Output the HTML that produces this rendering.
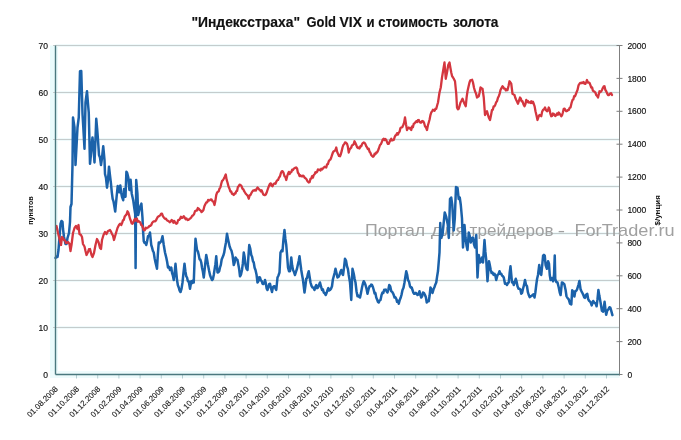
<!DOCTYPE html>
<html><head><meta charset="utf-8"><style>
html,body{margin:0;padding:0;background:#fff;}
body{width:681px;height:440px;position:relative;overflow:hidden;font-family:"Liberation Sans", "DejaVu Sans", sans-serif;}
svg text{font-family:"Liberation Sans", "DejaVu Sans", sans-serif;}
</style></head><body>
<svg width="681" height="440" viewBox="0 0 681 440" style="position:absolute;left:0;top:0">
<rect x="50" y="45.5" width="8" height="332.0" fill="#e9fbfc"/>
<rect x="50" y="371" width="569.5" height="7" fill="#eefbfc"/>
<line x1="55.5" y1="327.50" x2="619.5" y2="327.50" stroke="#f0fafb" stroke-width="3"/>
<line x1="55.5" y1="280.50" x2="619.5" y2="280.50" stroke="#f0fafb" stroke-width="3"/>
<line x1="55.5" y1="233.50" x2="619.5" y2="233.50" stroke="#f0fafb" stroke-width="3"/>
<line x1="55.5" y1="186.50" x2="619.5" y2="186.50" stroke="#f0fafb" stroke-width="3"/>
<line x1="55.5" y1="139.50" x2="619.5" y2="139.50" stroke="#f0fafb" stroke-width="3"/>
<line x1="55.5" y1="92.50" x2="619.5" y2="92.50" stroke="#f0fafb" stroke-width="3"/>
<line x1="55.5" y1="45.50" x2="619.5" y2="45.50" stroke="#f0fafb" stroke-width="3"/>
<line x1="53.0" y1="327.50" x2="619.5" y2="327.50" stroke="#c4cccd" stroke-width="1"/>
<line x1="53.0" y1="280.50" x2="619.5" y2="280.50" stroke="#c4cccd" stroke-width="1"/>
<line x1="53.0" y1="233.50" x2="619.5" y2="233.50" stroke="#c4cccd" stroke-width="1"/>
<line x1="53.0" y1="186.50" x2="619.5" y2="186.50" stroke="#c4cccd" stroke-width="1"/>
<line x1="53.0" y1="139.50" x2="619.5" y2="139.50" stroke="#c4cccd" stroke-width="1"/>
<line x1="53.0" y1="92.50" x2="619.5" y2="92.50" stroke="#c4cccd" stroke-width="1"/>
<line x1="53.0" y1="45.50" x2="619.5" y2="45.50" stroke="#c4cccd" stroke-width="1"/>
<line x1="619.5" y1="45.5" x2="619.5" y2="375.5" stroke="#7f7f7f" stroke-width="1"/>
<line x1="616.5" y1="374.50" x2="622.5" y2="374.50" stroke="#7f7f7f" stroke-width="1"/>
<line x1="616.5" y1="341.60" x2="622.5" y2="341.60" stroke="#7f7f7f" stroke-width="1"/>
<line x1="616.5" y1="308.70" x2="622.5" y2="308.70" stroke="#7f7f7f" stroke-width="1"/>
<line x1="616.5" y1="275.80" x2="622.5" y2="275.80" stroke="#7f7f7f" stroke-width="1"/>
<line x1="616.5" y1="242.90" x2="622.5" y2="242.90" stroke="#7f7f7f" stroke-width="1"/>
<line x1="616.5" y1="210.00" x2="622.5" y2="210.00" stroke="#7f7f7f" stroke-width="1"/>
<line x1="616.5" y1="177.10" x2="622.5" y2="177.10" stroke="#7f7f7f" stroke-width="1"/>
<line x1="616.5" y1="144.20" x2="622.5" y2="144.20" stroke="#7f7f7f" stroke-width="1"/>
<line x1="616.5" y1="111.30" x2="622.5" y2="111.30" stroke="#7f7f7f" stroke-width="1"/>
<line x1="616.5" y1="78.40" x2="622.5" y2="78.40" stroke="#7f7f7f" stroke-width="1"/>
<line x1="616.5" y1="45.50" x2="622.5" y2="45.50" stroke="#7f7f7f" stroke-width="1"/>
<line x1="76.50" y1="374.5" x2="76.50" y2="378.5" stroke="#b4cdd1" stroke-width="1"/>
<line x1="97.70" y1="374.5" x2="97.70" y2="378.5" stroke="#b4cdd1" stroke-width="1"/>
<line x1="118.90" y1="374.5" x2="118.90" y2="378.5" stroke="#b4cdd1" stroke-width="1"/>
<line x1="140.10" y1="374.5" x2="140.10" y2="378.5" stroke="#b4cdd1" stroke-width="1"/>
<line x1="161.30" y1="374.5" x2="161.30" y2="378.5" stroke="#b4cdd1" stroke-width="1"/>
<line x1="182.50" y1="374.5" x2="182.50" y2="378.5" stroke="#b4cdd1" stroke-width="1"/>
<line x1="203.70" y1="374.5" x2="203.70" y2="378.5" stroke="#b4cdd1" stroke-width="1"/>
<line x1="224.90" y1="374.5" x2="224.90" y2="378.5" stroke="#b4cdd1" stroke-width="1"/>
<line x1="246.10" y1="374.5" x2="246.10" y2="378.5" stroke="#b4cdd1" stroke-width="1"/>
<line x1="267.30" y1="374.5" x2="267.30" y2="378.5" stroke="#b4cdd1" stroke-width="1"/>
<line x1="288.50" y1="374.5" x2="288.50" y2="378.5" stroke="#b4cdd1" stroke-width="1"/>
<line x1="309.70" y1="374.5" x2="309.70" y2="378.5" stroke="#b4cdd1" stroke-width="1"/>
<line x1="330.90" y1="374.5" x2="330.90" y2="378.5" stroke="#b4cdd1" stroke-width="1"/>
<line x1="352.10" y1="374.5" x2="352.10" y2="378.5" stroke="#b4cdd1" stroke-width="1"/>
<line x1="373.30" y1="374.5" x2="373.30" y2="378.5" stroke="#b4cdd1" stroke-width="1"/>
<line x1="394.50" y1="374.5" x2="394.50" y2="378.5" stroke="#b4cdd1" stroke-width="1"/>
<line x1="415.70" y1="374.5" x2="415.70" y2="378.5" stroke="#b4cdd1" stroke-width="1"/>
<line x1="436.90" y1="374.5" x2="436.90" y2="378.5" stroke="#b4cdd1" stroke-width="1"/>
<line x1="458.10" y1="374.5" x2="458.10" y2="378.5" stroke="#b4cdd1" stroke-width="1"/>
<line x1="479.30" y1="374.5" x2="479.30" y2="378.5" stroke="#b4cdd1" stroke-width="1"/>
<line x1="500.50" y1="374.5" x2="500.50" y2="378.5" stroke="#b4cdd1" stroke-width="1"/>
<line x1="521.70" y1="374.5" x2="521.70" y2="378.5" stroke="#b4cdd1" stroke-width="1"/>
<line x1="542.90" y1="374.5" x2="542.90" y2="378.5" stroke="#b4cdd1" stroke-width="1"/>
<line x1="564.10" y1="374.5" x2="564.10" y2="378.5" stroke="#b4cdd1" stroke-width="1"/>
<line x1="585.30" y1="374.5" x2="585.30" y2="378.5" stroke="#b4cdd1" stroke-width="1"/>
<line x1="606.50" y1="374.5" x2="606.50" y2="378.5" stroke="#b4cdd1" stroke-width="1"/>
<text x="364.90" y="235.8" font-size="16.2" fill="#a0a0a0" textLength="60.20" lengthAdjust="spacingAndGlyphs">Портал</text>
<text x="430.75" y="235.8" font-size="16.2" fill="#a0a0a0" textLength="35.75" lengthAdjust="spacingAndGlyphs">для</text>
<text x="469.60" y="235.8" font-size="16.2" fill="#a0a0a0" textLength="83.90" lengthAdjust="spacingAndGlyphs">трейдеров</text>
<text x="557.70" y="235.8" font-size="16.2" fill="#a0a0a0" textLength="7.30" lengthAdjust="spacingAndGlyphs">-</text>
<text x="574.40" y="235.8" font-size="16.2" fill="#a0a0a0" textLength="100.30" lengthAdjust="spacingAndGlyphs">ForTrader.ru</text>
<polyline points="55.50,258.00 56.50,256.45 57.50,257.00 58.50,250.00 59.50,237.00 60.50,224.00 61.50,221.00 62.50,222.00 63.00,229.00 64.00,237.00 65.50,244.00 66.50,244.00 67.50,238.00 69.00,233.00 70.00,222.00 70.50,207.00 71.50,204.00 72.50,165.00 73.00,117.50 74.50,127.50 75.50,165.00 76.50,146.43 77.50,127.50 78.75,117.50 80.00,71.25 81.25,71.00 82.50,113.75 83.50,130.73 84.50,148.75 85.50,102.50 87.00,91.25 87.88,102.29 88.75,112.50 90.00,163.75 90.83,155.50 91.67,144.51 92.50,137.50 93.50,148.05 94.50,162.50 95.38,141.97 96.25,118.75 97.12,128.41 98.00,140.00 99.00,155.00 100.00,157.50 101.00,165.00 102.00,158.00 103.25,146.25 104.50,160.00 105.00,174.00 106.00,178.00 107.00,187.70 108.00,180.00 109.00,166.70 110.10,176.40 110.95,183.29 111.80,192.30 112.65,198.83 113.50,201.40 114.35,206.38 115.20,211.60 116.40,199.00 117.70,186.00 119.20,192.30 120.30,185.50 121.15,192.50 122.00,196.80 123.20,200.20 124.10,188.90 125.50,196.80 126.40,171.80 127.20,173.00 128.30,177.50 129.40,190.00 130.60,179.80 131.70,193.40 133.20,200.20 134.30,208.20 135.20,214.00 135.60,268.00 136.20,180.00 137.40,193.40 138.20,215.00 139.70,208.20 140.55,205.81 141.40,203.60 142.50,218.00 143.00,230.00 143.75,241.25 144.58,243.06 145.42,242.35 146.25,245.00 147.12,241.16 148.00,236.25 149.00,235.85 150.00,232.50 151.25,245.00 152.08,247.59 152.92,250.97 153.75,252.50 154.62,258.19 155.50,262.50 157.00,268.75 157.88,253.88 158.75,242.50 159.58,243.12 160.42,242.03 161.25,241.25 162.50,236.25 163.75,245.00 165.00,252.50 166.25,257.50 167.12,261.71 168.00,267.50 169.00,266.87 170.00,270.00 171.25,267.50 172.08,273.13 172.92,275.72 173.75,280.00 174.62,272.75 175.50,263.75 177.00,280.00 177.88,285.27 178.75,287.50 179.62,290.61 180.50,292.00 181.50,288.93 182.50,282.50 183.50,272.70 184.50,263.75 185.38,271.20 186.25,276.25 187.08,277.70 187.92,281.33 188.75,281.25 190.00,288.75 191.25,281.25 192.08,283.18 192.92,280.47 193.75,282.50 194.62,259.17 195.50,238.75 197.00,250.00 197.88,251.37 198.75,255.00 199.58,259.36 200.42,259.74 201.25,262.50 202.08,268.01 202.92,271.70 203.75,277.50 204.58,270.03 205.42,262.04 206.25,255.00 207.12,259.40 208.00,265.00 209.00,270.34 210.00,275.00 211.00,277.84 212.00,280.00 212.88,279.12 213.75,275.00 214.58,269.48 215.42,264.22 216.25,256.25 217.50,272.50 218.33,272.26 219.17,271.13 220.00,267.50 220.83,264.85 221.67,259.49 222.50,257.50 223.33,255.61 224.17,252.69 225.00,247.50 226.00,242.24 227.00,233.75 227.88,238.40 228.75,242.50 229.62,246.48 230.50,248.75 231.50,250.72 232.50,255.00 233.75,265.00 234.62,262.58 235.50,257.50 236.50,259.04 237.50,260.00 238.33,264.56 239.17,269.09 240.00,276.25 241.00,274.54 242.00,270.00 242.88,263.21 243.75,252.50 244.62,257.10 245.50,265.00 246.50,268.70 247.50,270.00 248.38,257.14 249.25,245.00 250.25,248.60 251.25,255.00 252.08,256.68 252.92,261.08 253.75,262.50 254.62,267.74 255.50,270.00 256.50,274.43 257.50,282.50 258.33,281.29 259.17,277.35 260.00,277.50 260.83,280.46 261.67,280.99 262.50,283.75 263.33,284.02 264.17,283.17 265.00,280.00 265.83,283.36 266.67,288.66 267.50,290.00 268.33,287.16 269.17,284.14 270.00,283.75 271.00,288.27 272.00,292.00 272.88,287.25 273.75,286.25 274.58,286.29 275.42,288.38 276.25,290.00 277.50,277.50 278.50,275.44 279.50,272.50 280.50,252.50 281.50,250.50 282.50,251.25 283.50,238.79 284.50,230.00 285.38,238.97 286.25,245.00 287.12,255.51 288.00,267.50 289.00,271.21 290.00,271.25 291.25,257.50 292.12,265.34 293.00,270.00 294.00,272.01 295.00,275.00 296.00,271.72 297.00,268.75 297.83,264.66 298.67,260.99 299.50,256.25 300.38,263.51 301.25,270.00 302.12,275.24 303.00,280.00 304.50,292.50 305.38,286.11 306.25,278.75 307.08,278.01 307.92,273.78 308.75,271.25 309.62,276.60 310.50,282.50 311.50,285.88 312.50,287.50 313.50,287.70 314.50,290.00 315.38,286.70 316.25,285.00 317.12,288.16 318.00,287.50 319.00,285.08 320.00,282.50 321.00,286.44 322.00,290.00 322.88,289.30 323.75,292.50 324.75,293.41 325.75,295.00 326.62,292.82 327.50,290.00 328.33,288.08 329.17,290.46 330.00,290.00 331.00,288.65 332.00,286.25 332.88,279.49 333.75,276.25 334.62,273.01 335.50,268.75 336.50,272.99 337.50,277.50 338.50,276.97 339.50,275.00 340.38,271.91 341.25,270.00 342.12,273.33 343.00,275.00 344.00,267.83 345.00,258.75 346.00,260.59 347.00,266.25 347.88,268.87 348.75,275.00 350.00,282.50 351.25,300.00 352.50,268.75 353.75,273.75 354.62,278.83 355.50,282.50 356.50,291.23 357.50,296.25 358.33,295.67 359.17,296.91 360.00,297.50 361.00,292.87 362.00,287.50 362.88,283.66 363.75,281.25 364.62,282.58 365.50,285.00 366.50,288.63 367.50,293.75 368.50,289.48 369.50,286.25 370.33,286.22 371.17,284.62 372.00,285.00 372.88,287.01 373.75,290.00 374.58,293.59 375.42,293.11 376.25,297.50 377.08,299.44 377.92,301.77 378.75,302.50 379.62,300.49 380.50,300.00 381.50,295.14 382.50,292.50 383.33,292.88 384.17,289.79 385.00,290.00 385.83,289.58 386.67,291.41 387.50,292.50 388.38,289.54 389.25,285.00 390.25,286.53 391.25,291.25 392.08,291.79 392.92,293.09 393.75,295.00 394.58,297.58 395.42,297.25 396.25,298.75 397.08,301.84 397.92,300.76 398.75,303.75 399.75,299.97 400.75,297.50 401.62,294.35 402.50,290.00 403.50,287.79 404.50,282.50 405.38,276.68 406.25,271.25 407.12,274.53 408.00,280.00 409.00,281.61 410.00,286.25 410.83,287.62 411.67,287.51 412.50,290.00 413.33,292.48 414.17,293.85 415.00,293.75 415.83,292.90 416.67,293.70 417.50,295.00 418.50,294.35 419.50,291.25 420.38,294.94 421.25,297.50 422.12,296.23 423.00,292.50 424.00,293.13 425.00,295.00 425.88,297.27 426.75,302.50 427.75,301.04 428.75,301.25 429.62,295.55 430.50,287.50 431.50,289.33 432.50,293.00 433.50,289.39 434.50,287.00 435.38,284.42 436.25,282.50 437.12,276.43 438.00,271.00 439.50,252.50 440.25,223.00 441.00,238.00 442.50,235.00 443.62,223.39 444.75,212.50 446.25,217.00 447.75,224.50 448.80,238.00 450.00,199.00 451.20,197.50 452.25,205.00 453.75,230.50 454.80,218.50 456.00,187.00 457.50,187.75 458.70,199.00 459.75,197.50 460.80,205.00 462.00,218.50 463.00,247.50 464.50,225.00 465.50,237.50 466.50,245.43 467.50,250.00 468.75,232.50 469.75,236.12 470.75,242.50 471.88,238.02 473.00,237.50 474.00,244.27 475.00,247.50 476.25,235.00 477.50,277.50 478.75,255.00 480.00,262.50 481.00,261.52 482.00,257.50 483.00,262.50 484.50,240.00 485.38,251.95 486.25,260.00 487.50,281.25 489.00,261.25 489.88,265.36 490.75,270.00 491.62,273.05 492.50,272.50 493.50,274.83 494.50,273.75 495.38,275.76 496.25,280.00 497.50,275.00 498.50,274.11 499.50,271.25 500.38,273.85 501.25,273.75 502.08,275.65 502.92,276.33 503.75,277.50 505.00,283.75 506.00,283.53 507.00,285.00 507.88,283.11 508.75,282.50 509.62,273.28 510.50,266.25 512.00,282.50 512.88,282.02 513.75,285.00 514.75,282.23 515.75,278.75 516.62,281.65 517.50,286.25 518.50,288.74 519.50,288.75 520.38,289.43 521.25,293.75 522.12,292.86 523.00,288.75 524.00,285.15 525.00,280.00 526.00,284.82 527.00,286.25 527.88,292.21 528.75,295.00 529.75,297.22 530.75,296.25 531.62,295.93 532.50,295.00 533.50,294.30 534.50,297.50 535.38,292.23 536.25,285.00 537.12,278.69 538.00,275.00 539.25,265.00 540.00,272.50 541.25,275.00 542.25,265.00 543.10,255.60 543.92,254.80 544.75,255.60 545.60,265.00 546.90,268.75 548.10,261.25 549.00,263.75 549.75,275.00 550.60,280.00 551.90,278.00 553.10,281.25 554.00,275.00 554.75,255.60 555.25,278.75 556.25,282.00 557.50,282.50 558.75,287.50 559.75,292.50 560.60,295.00 561.90,282.50 563.10,283.00 564.40,284.40 565.60,290.00 566.50,296.25 567.50,298.00 568.75,299.40 570.00,303.75 571.30,304.50 572.20,290.30 573.50,292.00 574.40,296.50 575.30,291.20 576.20,290.95 577.10,289.40 578.40,285.00 579.40,281.00 580.60,289.40 581.50,291.30 582.40,293.00 583.30,294.86 584.20,297.40 585.10,297.83 586.00,294.75 587.30,293.90 588.20,299.20 589.10,300.75 590.00,301.40 590.85,302.77 591.70,305.40 593.20,301.00 594.40,302.70 595.70,303.60 596.60,306.30 597.50,299.20 598.40,289.90 599.30,295.60 600.60,302.70 601.90,310.70 603.20,311.60 604.60,301.80 605.50,309.80 606.20,314.70 607.20,310.70 608.60,308.90 609.45,307.26 610.30,307.60 611.20,310.70 612.40,315.10" fill="none" stroke="#1b62aa" stroke-width="2.5" stroke-linejoin="round" stroke-linecap="round"/>
<polyline points="56.50,226.00 58.00,233.00 59.50,239.00 61.00,245.00 62.00,237.00 63.00,237.97 64.00,240.00 65.00,240.45 66.00,243.00 67.00,242.95 68.00,242.00 69.50,244.00 70.50,251.00 71.50,245.00 73.00,233.00 74.50,228.00 76.00,226.00 77.50,229.00 78.50,225.00 79.50,234.00 81.00,235.00 82.00,237.00 83.00,244.00 84.50,246.50 85.50,251.00 86.50,255.00 88.00,252.00 89.00,249.22 90.00,249.00 91.50,255.00 92.50,257.00 94.00,253.00 95.50,245.00 97.00,239.00 98.50,242.00 100.00,248.00 101.00,249.00 102.00,240.00 103.50,235.00 105.00,232.00 106.50,234.00 108.00,231.00 109.00,230.61 110.00,230.00 111.00,231.60 112.00,234.00 113.00,235.67 114.00,240.00 115.00,236.52 116.00,233.00 117.50,228.00 119.00,225.00 120.12,223.61 121.25,225.00 122.08,223.13 122.92,220.38 123.75,220.00 124.69,216.58 125.62,215.40 126.56,214.42 127.50,211.25 128.33,212.62 129.17,215.42 130.00,218.75 130.83,220.80 131.67,223.43 132.50,223.75 133.33,222.31 134.17,220.11 135.00,218.75 135.94,220.80 136.88,218.64 137.81,221.70 138.75,221.25 139.58,221.87 140.42,222.68 141.25,225.00 142.08,225.52 142.92,227.76 143.75,230.00 144.69,230.32 145.62,227.79 146.56,228.37 147.50,227.50 148.44,227.29 149.38,225.87 150.31,225.77 151.25,225.00 152.19,222.75 153.12,221.80 154.06,221.31 155.00,221.25 155.94,220.54 156.88,218.53 157.81,216.94 158.75,216.25 159.56,215.88 160.38,214.86 161.19,213.77 162.00,213.75 163.00,216.30 164.00,217.68 165.00,218.75 165.94,218.61 166.88,220.22 167.81,220.70 168.75,221.25 169.69,222.19 170.62,221.56 171.56,220.05 172.50,220.50 173.44,222.75 174.38,220.98 175.31,222.69 176.25,223.75 177.19,223.27 178.12,220.21 179.06,219.97 180.00,218.75 180.94,216.74 181.88,218.00 182.81,217.67 183.75,216.25 184.69,217.41 185.62,219.25 186.56,218.50 187.50,220.00 188.44,219.96 189.38,219.03 190.31,218.36 191.25,217.50 192.19,215.81 193.12,215.39 194.06,214.15 195.00,211.25 195.94,210.55 196.88,210.49 197.81,208.06 198.75,208.75 199.69,209.98 200.62,210.44 201.56,212.10 202.50,211.25 203.44,210.03 204.38,206.23 205.31,204.34 206.25,202.50 207.19,202.38 208.12,199.82 209.06,200.51 210.00,200.00 210.83,199.42 211.67,199.68 212.50,201.25 213.50,201.80 214.50,205.00 215.38,200.80 216.25,195.00 217.08,192.64 217.92,191.74 218.75,191.25 219.58,188.42 220.42,187.36 221.25,183.75 222.08,180.83 222.92,180.26 223.75,178.75 224.75,176.77 225.75,174.50 226.62,179.65 227.50,182.50 228.50,186.58 229.50,188.75 230.33,191.51 231.17,191.42 232.00,193.75 232.88,194.12 233.75,195.00 234.58,193.33 235.42,193.65 236.25,191.25 237.08,190.96 237.92,186.87 238.75,186.25 239.62,184.65 240.50,185.00 241.50,186.07 242.50,188.75 243.33,189.20 244.17,191.20 245.00,192.50 246.00,194.02 247.00,195.00 247.88,196.16 248.75,198.75 249.62,195.39 250.50,195.00 251.50,192.88 252.50,191.25 253.33,190.44 254.17,190.62 255.00,190.00 255.83,190.53 256.67,188.90 257.50,187.50 258.33,188.38 259.17,189.52 260.00,190.00 260.83,191.36 261.67,190.33 262.50,192.50 263.33,194.53 264.17,195.01 265.00,195.00 265.83,194.46 266.67,192.56 267.50,190.00 268.33,187.59 269.17,185.53 270.00,183.75 270.83,183.39 271.67,185.82 272.50,186.25 273.50,184.10 274.50,183.29 275.50,183.75 276.33,181.63 277.17,180.24 278.00,180.00 279.00,177.65 280.00,176.25 280.83,173.24 281.67,171.42 282.50,171.25 283.50,172.70 284.50,176.25 285.38,176.93 286.25,180.00 287.12,176.47 288.00,173.75 288.83,171.91 289.67,174.04 290.50,172.50 291.33,172.01 292.17,169.78 293.00,170.00 293.81,168.63 294.62,168.29 295.44,167.72 296.25,167.50 297.08,168.45 297.92,172.71 298.75,173.75 299.58,176.06 300.42,175.31 301.25,176.25 302.06,176.51 302.88,175.63 303.69,175.99 304.50,177.50 305.50,178.28 306.50,179.29 307.50,181.25 308.75,182.50 309.58,182.24 310.42,178.98 311.25,178.75 312.08,176.07 312.92,177.60 313.75,175.00 314.58,174.25 315.42,172.27 316.25,172.50 317.08,171.80 317.92,169.41 318.75,170.00 319.58,169.67 320.42,170.60 321.25,168.75 322.08,169.42 322.92,168.51 323.75,167.50 324.58,166.78 325.42,167.10 326.25,167.50 327.08,164.42 327.92,164.15 328.75,161.25 329.58,160.10 330.42,159.59 331.25,157.50 332.08,154.91 332.92,152.50 333.75,151.25 334.58,150.93 335.42,150.20 336.25,147.50 337.12,151.68 338.00,153.75 339.00,155.92 340.00,156.25 340.83,154.29 341.67,151.14 342.50,147.50 343.33,145.01 344.17,144.22 345.00,142.50 346.00,142.69 347.00,143.75 347.88,146.71 348.75,152.50 349.58,149.42 350.42,148.50 351.25,147.50 352.06,145.22 352.88,144.95 353.69,144.18 354.50,141.25 355.38,142.97 356.25,145.00 357.08,147.14 357.92,148.13 358.75,147.50 359.58,148.45 360.42,146.26 361.25,146.25 362.08,144.16 362.92,142.93 363.75,142.50 364.58,142.84 365.42,144.11 366.25,146.25 367.08,147.46 367.92,149.12 368.75,148.75 369.58,151.85 370.42,152.86 371.25,155.00 372.08,155.88 372.92,156.73 373.75,156.25 374.58,153.75 375.42,154.23 376.25,152.50 377.08,152.48 377.92,150.85 378.75,148.75 380.00,145.00 380.94,144.19 381.88,141.81 382.81,139.35 383.75,138.75 384.58,140.03 385.42,139.08 386.25,140.00 387.08,142.15 387.92,143.91 388.75,143.75 389.58,141.77 390.42,140.12 391.25,138.75 392.08,140.51 392.92,140.26 393.75,140.00 394.58,137.34 395.42,135.55 396.25,135.00 397.08,133.12 397.92,134.55 398.75,132.50 399.58,131.75 400.42,128.11 401.25,127.50 402.25,127.23 403.25,125.00 404.12,122.69 405.00,117.50 406.00,124.22 407.00,130.00 407.88,128.30 408.75,127.50 409.58,128.48 410.42,128.06 411.25,130.00 412.08,126.46 412.92,127.25 413.75,123.75 414.58,123.37 415.42,122.16 416.25,121.25 417.08,122.13 417.92,120.22 418.75,120.00 419.58,121.95 420.42,122.65 421.25,122.50 422.25,121.01 423.25,121.25 424.12,123.01 425.00,126.25 426.00,127.50 427.00,130.00 427.88,125.47 428.75,122.50 429.58,119.43 430.42,115.11 431.25,112.50 432.08,111.42 432.92,109.73 433.75,110.00 434.58,110.81 435.42,108.73 436.25,108.75 437.12,105.50 438.00,102.50 439.50,92.50 440.75,87.50 442.00,77.50 443.25,70.00 444.50,62.50 445.75,78.75 447.00,72.50 448.25,65.00 449.50,62.50 450.38,67.75 451.25,72.50 452.12,76.21 453.00,77.50 454.00,79.14 455.00,81.25 456.25,93.75 457.00,107.50 457.88,109.38 458.75,108.75 459.62,105.63 460.50,102.50 461.50,100.72 462.50,98.75 463.50,101.32 464.50,103.75 465.75,106.25 466.62,97.31 467.50,91.25 468.50,86.70 469.50,82.50 470.38,80.30 471.25,80.00 472.12,79.76 473.00,82.50 474.00,87.77 475.00,91.25 476.00,93.39 477.00,97.50 477.88,96.80 478.75,96.25 479.62,92.55 480.50,87.50 481.50,88.29 482.50,88.75 483.75,97.50 485.00,115.00 486.00,112.60 487.00,111.25 487.88,114.43 488.75,117.50 490.00,120.00 491.00,115.17 492.00,110.00 492.83,109.60 493.67,106.32 494.50,106.25 495.33,104.76 496.17,102.16 497.00,101.25 497.88,98.08 498.75,96.25 499.62,93.94 500.50,90.00 501.50,88.15 502.50,86.25 503.33,87.27 504.17,88.70 505.00,88.75 505.83,90.40 506.67,89.41 507.50,90.00 508.50,85.96 509.50,81.25 510.38,82.52 511.25,83.75 512.50,93.75 513.50,94.41 514.50,95.00 515.38,98.08 516.25,100.00 517.12,101.73 518.00,103.75 519.00,100.72 520.00,97.50 520.83,98.68 521.67,101.32 522.50,101.25 523.50,104.35 524.50,106.25 525.38,104.25 526.25,100.00 527.08,102.16 527.92,100.95 528.75,102.50 529.58,102.26 530.42,103.00 531.25,101.25 532.08,103.10 532.92,101.83 533.75,103.75 534.62,106.36 535.50,111.25 536.50,115.45 537.50,120.00 538.75,116.25 539.58,114.97 540.42,115.47 541.25,116.25 542.12,111.84 543.00,110.00 544.00,109.26 545.00,107.50 546.00,110.23 547.00,111.25 547.88,110.57 548.75,107.50 549.58,109.38 550.42,113.98 551.25,116.25 552.08,115.90 552.92,113.51 553.75,113.75 554.58,115.32 555.42,115.99 556.25,115.00 557.08,113.33 557.92,114.69 558.75,112.50 559.58,113.44 560.42,114.96 561.25,116.25 562.08,115.22 562.92,112.25 563.75,108.75 564.58,108.57 565.42,110.21 566.25,111.25 567.08,110.88 567.92,109.93 568.75,110.00 569.62,107.84 570.50,107.50 571.50,103.21 572.50,100.00 573.33,99.42 574.17,96.06 575.00,96.25 575.83,94.33 576.67,91.90 577.50,90.00 578.50,85.43 579.50,83.75 580.33,82.83 581.17,83.29 582.00,82.50 582.83,82.95 583.67,82.03 584.50,83.75 585.33,83.96 586.17,82.12 587.00,80.00 587.88,82.67 588.75,82.50 589.58,82.98 590.42,85.13 591.25,87.50 592.08,87.37 592.92,90.84 593.75,91.25 594.58,91.81 595.42,92.64 596.25,95.00 597.12,96.02 598.00,97.50 599.50,91.25 600.33,92.07 601.17,91.37 602.00,90.00 602.83,88.03 603.67,86.45 604.50,86.25 605.38,90.01 606.25,91.25 607.12,93.34 608.00,95.00 609.00,94.98 610.00,93.75 611.00,93.14 612.00,95.00" fill="none" stroke="#d4363f" stroke-width="2.3" stroke-linejoin="round" stroke-linecap="round"/>
<line x1="55.5" y1="45.5" x2="55.5" y2="374.5" stroke="#4a787e" stroke-width="1.4"/>
<line x1="55.5" y1="374.5" x2="619.5" y2="374.5" stroke="#4a787e" stroke-width="1.4"/>
<text x="48" y="377.60" text-anchor="end" font-size="8.5" fill="#111" stroke="#111" stroke-width="0.15">0</text>
<text x="48" y="330.60" text-anchor="end" font-size="8.5" fill="#111" stroke="#111" stroke-width="0.15">10</text>
<text x="48" y="283.60" text-anchor="end" font-size="8.5" fill="#111" stroke="#111" stroke-width="0.15">20</text>
<text x="48" y="236.60" text-anchor="end" font-size="8.5" fill="#111" stroke="#111" stroke-width="0.15">30</text>
<text x="48" y="189.60" text-anchor="end" font-size="8.5" fill="#111" stroke="#111" stroke-width="0.15">40</text>
<text x="48" y="142.60" text-anchor="end" font-size="8.5" fill="#111" stroke="#111" stroke-width="0.15">50</text>
<text x="48" y="95.60" text-anchor="end" font-size="8.5" fill="#111" stroke="#111" stroke-width="0.15">60</text>
<text x="48" y="48.60" text-anchor="end" font-size="8.5" fill="#111" stroke="#111" stroke-width="0.15">70</text>
<text x="627.4" y="377.60" font-size="8.5" fill="#111" stroke="#111" stroke-width="0.15">0</text>
<text x="627.4" y="344.70" font-size="8.5" fill="#111" stroke="#111" stroke-width="0.15">200</text>
<text x="627.4" y="311.80" font-size="8.5" fill="#111" stroke="#111" stroke-width="0.15">400</text>
<text x="627.4" y="278.90" font-size="8.5" fill="#111" stroke="#111" stroke-width="0.15">600</text>
<text x="627.4" y="246.00" font-size="8.5" fill="#111" stroke="#111" stroke-width="0.15">800</text>
<text x="627.4" y="213.10" font-size="8.5" fill="#111" stroke="#111" stroke-width="0.15">1000</text>
<text x="627.4" y="180.20" font-size="8.5" fill="#111" stroke="#111" stroke-width="0.15">1200</text>
<text x="627.4" y="147.30" font-size="8.5" fill="#111" stroke="#111" stroke-width="0.15">1400</text>
<text x="627.4" y="114.40" font-size="8.5" fill="#111" stroke="#111" stroke-width="0.15">1600</text>
<text x="627.4" y="81.50" font-size="8.5" fill="#111" stroke="#111" stroke-width="0.15">1800</text>
<text x="627.4" y="48.60" font-size="8.5" fill="#111" stroke="#111" stroke-width="0.15">2000</text>
<text x="58.50" y="389.50" text-anchor="end" font-size="8" fill="#1a1a1a" stroke="#1a1a1a" stroke-width="0.1" transform="rotate(-45 58.50 389.50)">01.08.2008</text>
<text x="79.70" y="389.50" text-anchor="end" font-size="8" fill="#1a1a1a" stroke="#1a1a1a" stroke-width="0.1" transform="rotate(-45 79.70 389.50)">01.10.2008</text>
<text x="100.90" y="389.50" text-anchor="end" font-size="8" fill="#1a1a1a" stroke="#1a1a1a" stroke-width="0.1" transform="rotate(-45 100.90 389.50)">01.12.2008</text>
<text x="122.10" y="389.50" text-anchor="end" font-size="8" fill="#1a1a1a" stroke="#1a1a1a" stroke-width="0.1" transform="rotate(-45 122.10 389.50)">01.02.2009</text>
<text x="143.30" y="389.50" text-anchor="end" font-size="8" fill="#1a1a1a" stroke="#1a1a1a" stroke-width="0.1" transform="rotate(-45 143.30 389.50)">01.04.2009</text>
<text x="164.50" y="389.50" text-anchor="end" font-size="8" fill="#1a1a1a" stroke="#1a1a1a" stroke-width="0.1" transform="rotate(-45 164.50 389.50)">01.06.2009</text>
<text x="185.70" y="389.50" text-anchor="end" font-size="8" fill="#1a1a1a" stroke="#1a1a1a" stroke-width="0.1" transform="rotate(-45 185.70 389.50)">01.08.2009</text>
<text x="206.90" y="389.50" text-anchor="end" font-size="8" fill="#1a1a1a" stroke="#1a1a1a" stroke-width="0.1" transform="rotate(-45 206.90 389.50)">01.10.2009</text>
<text x="228.10" y="389.50" text-anchor="end" font-size="8" fill="#1a1a1a" stroke="#1a1a1a" stroke-width="0.1" transform="rotate(-45 228.10 389.50)">01.12.2009</text>
<text x="249.30" y="389.50" text-anchor="end" font-size="8" fill="#1a1a1a" stroke="#1a1a1a" stroke-width="0.1" transform="rotate(-45 249.30 389.50)">01.02.2010</text>
<text x="270.50" y="389.50" text-anchor="end" font-size="8" fill="#1a1a1a" stroke="#1a1a1a" stroke-width="0.1" transform="rotate(-45 270.50 389.50)">01.04.2010</text>
<text x="291.70" y="389.50" text-anchor="end" font-size="8" fill="#1a1a1a" stroke="#1a1a1a" stroke-width="0.1" transform="rotate(-45 291.70 389.50)">01.06.2010</text>
<text x="312.90" y="389.50" text-anchor="end" font-size="8" fill="#1a1a1a" stroke="#1a1a1a" stroke-width="0.1" transform="rotate(-45 312.90 389.50)">01.08.2010</text>
<text x="334.10" y="389.50" text-anchor="end" font-size="8" fill="#1a1a1a" stroke="#1a1a1a" stroke-width="0.1" transform="rotate(-45 334.10 389.50)">01.10.2010</text>
<text x="355.30" y="389.50" text-anchor="end" font-size="8" fill="#1a1a1a" stroke="#1a1a1a" stroke-width="0.1" transform="rotate(-45 355.30 389.50)">01.12.2010</text>
<text x="376.50" y="389.50" text-anchor="end" font-size="8" fill="#1a1a1a" stroke="#1a1a1a" stroke-width="0.1" transform="rotate(-45 376.50 389.50)">01.02.2011</text>
<text x="397.70" y="389.50" text-anchor="end" font-size="8" fill="#1a1a1a" stroke="#1a1a1a" stroke-width="0.1" transform="rotate(-45 397.70 389.50)">01.04.2011</text>
<text x="418.90" y="389.50" text-anchor="end" font-size="8" fill="#1a1a1a" stroke="#1a1a1a" stroke-width="0.1" transform="rotate(-45 418.90 389.50)">01.06.2011</text>
<text x="440.10" y="389.50" text-anchor="end" font-size="8" fill="#1a1a1a" stroke="#1a1a1a" stroke-width="0.1" transform="rotate(-45 440.10 389.50)">01.08.2011</text>
<text x="461.30" y="389.50" text-anchor="end" font-size="8" fill="#1a1a1a" stroke="#1a1a1a" stroke-width="0.1" transform="rotate(-45 461.30 389.50)">01.10.2011</text>
<text x="482.50" y="389.50" text-anchor="end" font-size="8" fill="#1a1a1a" stroke="#1a1a1a" stroke-width="0.1" transform="rotate(-45 482.50 389.50)">01.12.2011</text>
<text x="503.70" y="389.50" text-anchor="end" font-size="8" fill="#1a1a1a" stroke="#1a1a1a" stroke-width="0.1" transform="rotate(-45 503.70 389.50)">01.02.2012</text>
<text x="524.90" y="389.50" text-anchor="end" font-size="8" fill="#1a1a1a" stroke="#1a1a1a" stroke-width="0.1" transform="rotate(-45 524.90 389.50)">01.04.2012</text>
<text x="546.10" y="389.50" text-anchor="end" font-size="8" fill="#1a1a1a" stroke="#1a1a1a" stroke-width="0.1" transform="rotate(-45 546.10 389.50)">01.06.2012</text>
<text x="567.30" y="389.50" text-anchor="end" font-size="8" fill="#1a1a1a" stroke="#1a1a1a" stroke-width="0.1" transform="rotate(-45 567.30 389.50)">01.08.2012</text>
<text x="588.50" y="389.50" text-anchor="end" font-size="8" fill="#1a1a1a" stroke="#1a1a1a" stroke-width="0.1" transform="rotate(-45 588.50 389.50)">01.10.2012</text>
<text x="609.70" y="389.50" text-anchor="end" font-size="8" fill="#1a1a1a" stroke="#1a1a1a" stroke-width="0.1" transform="rotate(-45 609.70 389.50)">01.12.2012</text>
<text x="33" y="210.5" text-anchor="middle" font-size="6.8" font-weight="bold" fill="#111" textLength="28.5" lengthAdjust="spacingAndGlyphs" transform="rotate(-90 33 210.5)">пунктов</text>
<text x="660.5" y="210.3" text-anchor="middle" font-size="7.4" font-weight="bold" fill="#111" textLength="30.5" lengthAdjust="spacingAndGlyphs" transform="rotate(-90 660.5 210.3)">$/унция</text>
<text x="191.40" y="26.6" font-size="14" font-weight="bold" fill="#111" stroke="#111" stroke-width="0.15" textLength="108.70" lengthAdjust="spacingAndGlyphs">"Индексстраха"</text>
<text x="306.40" y="26.6" font-size="14" font-weight="bold" fill="#111" stroke="#111" stroke-width="0.15" textLength="29.50" lengthAdjust="spacingAndGlyphs">Gold</text>
<text x="339.60" y="26.6" font-size="14" font-weight="bold" fill="#111" stroke="#111" stroke-width="0.15" textLength="22.40" lengthAdjust="spacingAndGlyphs">VIX</text>
<text x="366.40" y="26.6" font-size="14" font-weight="bold" fill="#111" stroke="#111" stroke-width="0.15" textLength="8.10" lengthAdjust="spacingAndGlyphs">и</text>
<text x="378.30" y="26.6" font-size="14" font-weight="bold" fill="#111" stroke="#111" stroke-width="0.15" textLength="69.40" lengthAdjust="spacingAndGlyphs">стоимость</text>
<text x="453.10" y="26.6" font-size="14" font-weight="bold" fill="#111" stroke="#111" stroke-width="0.15" textLength="45.40" lengthAdjust="spacingAndGlyphs">золота</text>
</svg>
</body></html>
